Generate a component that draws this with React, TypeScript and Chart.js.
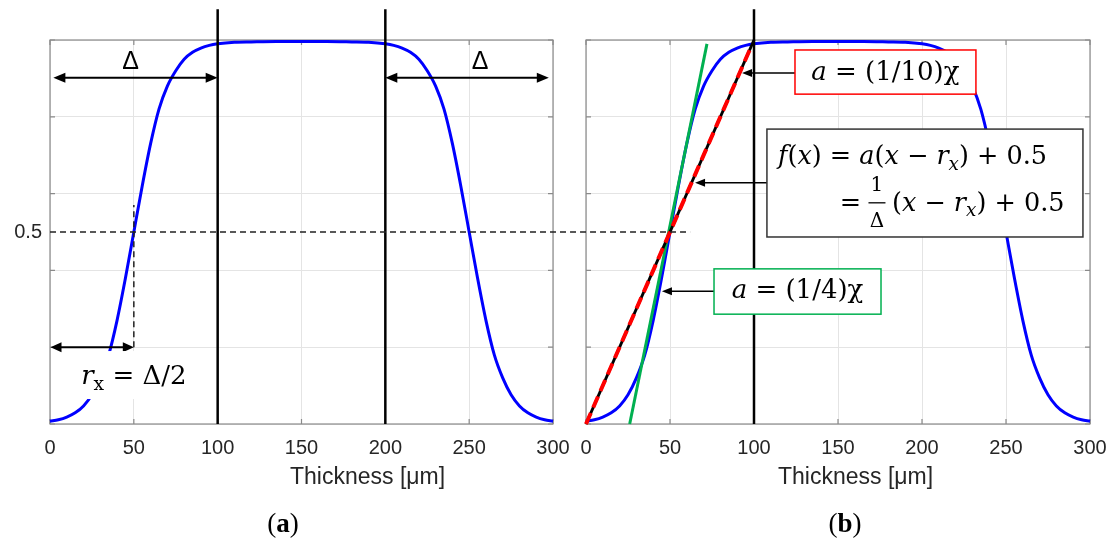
import React, { useEffect, useRef } from 'react';
import { Chart, registerables } from 'chart.js';

Chart.register(...registerables);

// ---------------- data ----------------
const thickness = [0, 5, 10, 15, 20, 25, 30, 35, 40, 45, 50, 55, 60, 65, 70, 75, 80, 85, 90, 95, 100, 110, 120, 135, 150, 165, 180, 190, 200, 205, 210, 215, 220, 225, 230, 235, 240, 245, 250, 255, 260, 265, 270, 275, 280, 285, 290, 295, 300];
const profile = [0.007, 0.011, 0.018, 0.029, 0.047, 0.076, 0.12, 0.18, 0.27, 0.38, 0.5, 0.62, 0.73, 0.82, 0.88, 0.92, 0.95, 0.968, 0.979, 0.986, 0.99, 0.994, 0.995, 0.996, 0.996, 0.996, 0.995, 0.994, 0.99, 0.986, 0.979, 0.968, 0.95, 0.92, 0.88, 0.82, 0.73, 0.62, 0.5, 0.38, 0.27, 0.18, 0.12, 0.076, 0.047, 0.029, 0.018, 0.011, 0.007];
const xTickValues = [0, 50, 100, 150, 200, 250, 300];
const yGridValues = [0, 0.2, 0.4, 0.6, 0.8, 1];
const yLabelValue = 0.5;
const boundariesA = [100, 200];
const boundariesB = [100];
const halfLevel = 0.5;
const rxValue = 50;
const rxTop = 0.57;
const rxArrowLevel = 0.2;
const deltaArrowLevel = 0.902;
const greenX = [26, 72];
const greenY = [0, 0.99];
const fitX = [0, 100];
const fitY = [0, 1];
const redX = [0, 98];
const redY = [0, 0.98];
const lineTop = 1.08;
const xTitle = 'Thickness [μm]';

// ---------------- styles ----------------
const SANS = '"Liberation Sans", Arial, sans-serif';
const MATH = '"DejaVu Serif", serif';
const TAG = '"Liberation Serif", serif';
const GRID = '#e4e4e4';
const FRAME = '#8a8a8a';
const TEXT = '#262626';

type Run = { t: string; it?: boolean; sub?: boolean; b?: boolean };

function runFont(r: Run, size: number, family: string) {
  const s = r.sub ? size * 0.72 : size;
  return `${r.it ? 'italic ' : ''}${r.b ? 'bold ' : ''}${s}px ${family}`;
}
function runsWidth(ctx: CanvasRenderingContext2D, runs: Run[], size: number, family = MATH) {
  let w = 0;
  for (const r of runs) {
    ctx.font = runFont(r, size, family);
    w += ctx.measureText(r.t).width;
  }
  return w;
}
function drawRuns(ctx: CanvasRenderingContext2D, runs: Run[], x: number, y: number, size: number, align: 'left' | 'center' = 'left', family = MATH) {
  const w = runsWidth(ctx, runs, size, family);
  let cx = align === 'center' ? x - w / 2 : x;
  ctx.textAlign = 'left';
  ctx.textBaseline = 'middle';
  for (const r of runs) {
    ctx.font = runFont(r, size, family);
    ctx.fillText(r.t, cx, y + (r.sub ? size * 0.3 : 0));
    cx += ctx.measureText(r.t).width;
  }
  return w;
}

function head(ctx: CanvasRenderingContext2D, tx: number, ty: number, fx: number, fy: number, len: number, half: number) {
  const a = Math.atan2(ty - fy, tx - fx);
  const c = Math.cos(a), s = Math.sin(a);
  ctx.beginPath();
  ctx.moveTo(tx, ty);
  ctx.lineTo(tx - len * c - half * s, ty - len * s + half * c);
  ctx.lineTo(tx - len * c + half * s, ty - len * s - half * c);
  ctx.closePath();
  ctx.fill();
}
function arrow(ctx: CanvasRenderingContext2D, fx: number, fy: number, tx: number, ty: number, w: number, len: number, half: number, both: boolean) {
  const a = Math.atan2(ty - fy, tx - fx);
  const c = Math.cos(a), s = Math.sin(a);
  ctx.lineWidth = w;
  ctx.beginPath();
  ctx.moveTo(both ? fx + len * 0.8 * c : fx, both ? fy + len * 0.8 * s : fy);
  ctx.lineTo(tx - len * 0.8 * c, ty - len * 0.8 * s);
  ctx.stroke();
  head(ctx, tx, ty, fx, fy, len, half);
  if (both) head(ctx, fx, fy, tx, ty, len, half);
}

const framePlugin = {
  id: 'frame',
  beforeDatasetsDraw(chart: any) {
    const { ctx, chartArea: a, scales } = chart;
    ctx.save();
    ctx.strokeStyle = FRAME;
    ctx.lineWidth = 1.2;
    ctx.strokeRect(a.left, a.top, a.right - a.left, a.bottom - a.top);
    ctx.beginPath();
    for (const v of xTickValues) {
      const p = scales.x.getPixelForValue(v);
      ctx.moveTo(p, a.bottom); ctx.lineTo(p, a.bottom - 5);
      ctx.moveTo(p, a.top); ctx.lineTo(p, a.top + 5);
    }
    for (const v of yGridValues) {
      const p = scales.y.getPixelForValue(v);
      ctx.moveTo(a.left, p); ctx.lineTo(a.left + 5, p);
      ctx.moveTo(a.right, p); ctx.lineTo(a.right - 5, p);
    }
    ctx.stroke();
    ctx.restore();
  },
};

function drawTitleAndTag(ctx: CanvasRenderingContext2D, titleLeft: number, tagCenter: number, tag: string) {
  ctx.fillStyle = TEXT;
  ctx.font = `23px ${SANS}`;
  ctx.textAlign = 'left';
  ctx.textBaseline = 'middle';
  ctx.fillText(xTitle, titleLeft, 478);
  ctx.fillStyle = '#000';
  drawRuns(ctx, [{ t: '(' }, { t: tag, b: true }, { t: ')' }], tagCenter, 525, 27, 'center', TAG);
}

const notesA = {
  id: 'notesA',
  afterDatasetsDraw(chart: any) {
    const { ctx, scales } = chart;
    const X = (v: number) => scales.x.getPixelForValue(v);
    const Y = (v: number) => scales.y.getPixelForValue(v);
    ctx.save();
    ctx.fillStyle = '#000';
    ctx.strokeStyle = '#000';
    arrow(ctx, X(2), Y(deltaArrowLevel), X(boundariesA[0]), Y(deltaArrowLevel), 2, 12, 5, true);
    arrow(ctx, X(boundariesA[1]), Y(deltaArrowLevel), X(297.5), Y(deltaArrowLevel), 2, 12, 5, true);
    ctx.font = `25px ${SANS}`;
    ctx.textAlign = 'center';
    ctx.textBaseline = 'middle';
    ctx.fillText('Δ', X(48), Y(0.943));
    ctx.fillText('Δ', X(256.5), Y(0.943));
    arrow(ctx, X(0.3), Y(rxArrowLevel), X(rxValue), Y(rxArrowLevel), 2, 11, 5, true);
    // r_x label with white background
    const runs: Run[] = [{ t: 'r', it: true }, { t: 'x', sub: true }, { t: ' = Δ/2' }];
    const w = runsWidth(ctx, runs, 26);
    const cx = X(rxValue);
    ctx.fillStyle = '#fff';
    ctx.fillRect(cx - w / 2 - 3, Y(0.19), w + 8, Y(0.065) - Y(0.19));
    ctx.fillStyle = '#000';
    drawRuns(ctx, runs, cx, Y(0.122), 26, 'center');
    drawTitleAndTag(ctx, 290, 283, 'a');
    ctx.restore();
  },
};

function box(ctx: CanvasRenderingContext2D, x0: number, y0: number, x1: number, y1: number, color: string) {
  ctx.fillStyle = '#fff';
  ctx.fillRect(x0, y0, x1 - x0, y1 - y0);
  ctx.strokeStyle = color;
  ctx.lineWidth = 1.5;
  ctx.strokeRect(x0, y0, x1 - x0, y1 - y0);
}

const notesB = {
  id: 'notesB',
  afterDatasetsDraw(chart: any) {
    const { ctx, scales } = chart;
    const X = (v: number) => scales.x.getPixelForValue(v);
    const Y = (v: number) => scales.y.getPixelForValue(v);
    ctx.save();
    // pointer arrows
    ctx.fillStyle = '#000';
    ctx.strokeStyle = '#000';
    arrow(ctx, X(124.4), Y(0.914), X(92.9), Y(0.914), 1.5, 10, 4, false);
    arrow(ctx, X(107.7), Y(0.628), X(64.9), Y(0.628), 1.5, 10, 4, false);
    arrow(ctx, X(76.2), Y(0.346), X(45.2), Y(0.346), 1.5, 10, 4, false);
    // red box
    box(ctx, X(124.4), Y(0.974), X(232.1), Y(0.859), '#ff0000');
    ctx.fillStyle = '#000';
    drawRuns(ctx, [{ t: 'a', it: true }, { t: ' = (1/10)χ' }], X(178.2), Y(0.914), 26, 'center');
    // green box
    box(ctx, X(76.2), Y(0.404), X(175.6), Y(0.286), '#00b050');
    ctx.fillStyle = '#000';
    drawRuns(ctx, [{ t: 'a', it: true }, { t: ' = (1/4)χ' }], X(125.9), Y(0.345), 26, 'center');
    // equation box
    box(ctx, X(107.7), Y(0.768), X(295.8), Y(0.487), '#333333');
    ctx.fillStyle = '#000';
    drawRuns(ctx, [
      { t: 'f', it: true }, { t: '(' }, { t: 'x', it: true }, { t: ') = ' }, { t: 'a', it: true }, { t: '(' },
      { t: 'x', it: true }, { t: ' − ' }, { t: 'r', it: true }, { t: 'x', it: true, sub: true }, { t: ') + 0.5' },
    ], X(114.3), Y(0.695), 25.5);
    drawRuns(ctx, [{ t: '=' }], X(151), Y(0.573), 25.5);
    const fc = X(173.2);
    drawRuns(ctx, [{ t: '1' }], fc, Y(0.62), 20, 'center');
    drawRuns(ctx, [{ t: 'Δ' }], fc, Y(0.526), 20, 'center');
    ctx.lineWidth = 1.3;
    ctx.strokeStyle = '#000';
    ctx.beginPath();
    ctx.moveTo(fc - 8.5, Y(0.576));
    ctx.lineTo(fc + 8.5, Y(0.576));
    ctx.stroke();
    drawRuns(ctx, [
      { t: '(' }, { t: 'x', it: true }, { t: ' − ' }, { t: 'r', it: true }, { t: 'x', it: true, sub: true }, { t: ') + 0.5' },
    ], X(182.1), Y(0.573), 25.5);
    drawTitleAndTag(ctx, 208, 275, 'b');
    ctx.restore();
  },
};

const pts = (xs: number[], ys: number[]) => xs.map((x, i) => ({ x, y: ys[i] }));
const seg = (x0: number, y0: number, x1: number, y1: number) => [{ x: x0, y: y0 }, { x: x1, y: y1 }];
const base = { pointRadius: 0, pointHoverRadius: 0, fill: false, tension: 0, clip: false as any };

function buildConfig(side: 'a' | 'b'): any {
  const curve = {
    ...base, data: pts(thickness, profile), borderColor: '#0000ff', borderWidth: 3,
    cubicInterpolationMode: 'monotone', clip: 4, order: 10,
  };
  const dashed = { ...base, borderColor: '#222', borderWidth: 1.5, borderDash: [6, 4] };
  const datasets: any[] = [curve];
  if (side === 'a') {
    datasets.push({ ...dashed, data: seg(0, halfLevel, 310.2, halfLevel), order: 0 });
    datasets.push({ ...dashed, data: seg(rxValue, rxArrowLevel, rxValue, rxTop), order: 1 });
    boundariesA.forEach((b) => datasets.push({ ...base, data: seg(b, 0, b, lineTop), borderColor: '#000', borderWidth: 2.5, order: 2 }));
  } else {
    datasets.push({ ...dashed, data: seg(-9.5, halfLevel, 62, halfLevel), order: 0 });
    datasets.push({ ...base, data: pts(redX, redY), borderColor: '#ff0000', borderWidth: 4, borderDash: [12, 6], order: 1 });
    datasets.push({ ...base, data: pts(fitX, fitY), borderColor: '#000', borderWidth: 3, order: 2 });
    datasets.push({ ...base, data: pts(greenX, greenY), borderColor: '#00b050', borderWidth: 3, order: 3 });
    boundariesB.forEach((b) => datasets.push({ ...base, data: seg(b, 0, b, lineTop), borderColor: '#000', borderWidth: 2.5, order: 4 }));
  }
  return {
    type: 'line',
    data: { datasets },
    options: {
      responsive: false,
      animation: false,
      events: [],
      layout: { padding: { left: 0, right: side === 'a' ? 17 : 20, top: 40, bottom: 0 } },
      plugins: { legend: { display: false }, tooltip: { enabled: false }, title: { display: false } },
      scales: {
        x: {
          type: 'linear', min: 0, max: 300,
          afterBuildTicks: (s: any) => { s.ticks = xTickValues.map((v) => ({ value: v })); },
          ticks: { font: { family: SANS, size: 20 }, color: TEXT, padding: 12, maxRotation: 0, autoSkip: false, callback: (v: any) => String(v) },
          grid: { color: GRID, drawTicks: false, lineWidth: 1 },
          border: { display: false },
          afterFit: (s: any) => { s.height = 117; s.paddingLeft = 0; s.paddingRight = 0; },
        },
        y: {
          type: 'linear', min: 0, max: 1,
          afterBuildTicks: (s: any) => { s.ticks = [...yGridValues, yLabelValue].sort((p, q) => p - q).map((v) => ({ value: v })); },
          ticks: { display: side === 'a', font: { family: SANS, size: 20 }, color: TEXT, padding: 8, callback: (v: any) => (v === yLabelValue ? String(yLabelValue) : '') },
          grid: { color: (c: any) => (c.tick && c.tick.value === yLabelValue ? 'rgba(0,0,0,0)' : GRID), drawTicks: false, lineWidth: 1 },
          border: { display: false },
          afterFit: (s: any) => { s.width = side === 'a' ? 50 : 16; s.paddingTop = 0; s.paddingBottom = 0; },
        },
      },
    },
    plugins: [framePlugin, side === 'a' ? notesA : notesB],
  };
}

function Panel({ side, left, width }: { side: 'a' | 'b'; left: number; width: number }) {
  const ref = useRef<HTMLCanvasElement | null>(null);
  useEffect(() => {
    const chart = new Chart(ref.current as HTMLCanvasElement, buildConfig(side));
    return () => chart.destroy();
  }, [side]);
  return (
    <canvas
      ref={ref}
      width={width}
      height={541}
      style={{ position: 'absolute', left, top: 0, width, height: 541, display: 'block' }}
    />
  );
}

export default function App() {
  return (
    <div style={{ position: 'absolute', left: 0, top: 0, width: 1110, height: 541, background: '#fff', overflow: 'hidden' }}>
      <Panel side="a" left={0} width={570} />
      <Panel side="b" left={570} width={540} />
    </div>
  );
}
